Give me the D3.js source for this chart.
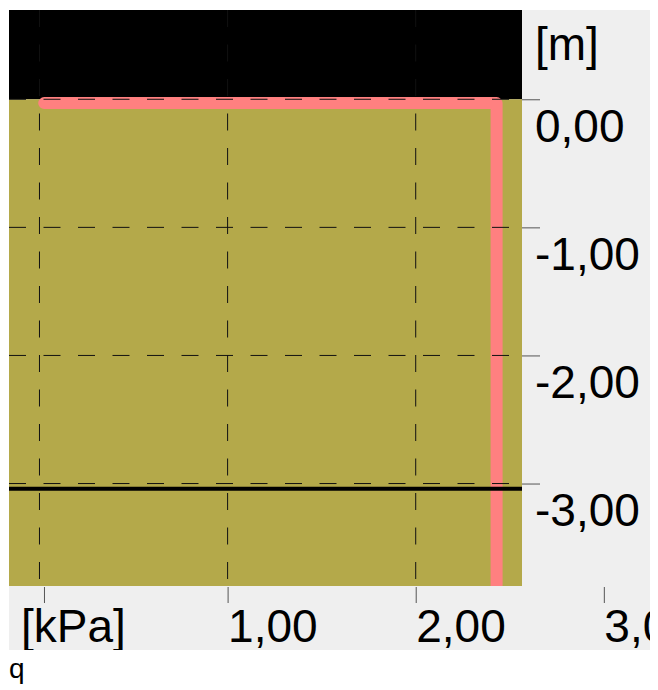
<!DOCTYPE html>
<html>
<head>
<meta charset="utf-8">
<script src="https://cdn.jsdelivr.net/npm/d3@7"></script>
<style>
  body { margin: 0; background: #fff; }
  svg text { font-family: "Liberation Sans", Arial, sans-serif; fill: #000; }
</style>
</head>
<body>
<script>
// soil profile layers, depth in [m]
var layerNames = ["air", "soil"];
var layerTop = [0.70, 0.00];
var layerBottom = [0.00, -3.80];

// surcharge q [kPa] along the depth
var loadQ = [0.025, 2.43, 2.43];
var loadDepth = [-0.03, -0.03, -3.80];

// water table [m]
var waterDepth = [-3.04];

var xTicks = [0, 1, 2, 3];
var yTicks = [0, -1, -2, -3];
var xUnit = "[kPa]";
var yUnit = "[m]";
var xName = "q";

var layerFill = { air: "#000000", soil: "#b4a94a" };

var profileChart = {
    panel: { x: 9, y: 10, w: 641, h: 640 },
    plot: { left: 9, top: 10, right: 522, bottom: 586 },
    fontSize: 46,

    fmt: d3.formatLocale({ decimal: ",", thousands: ".", grouping: [3], currency: ["", ""], minus: "-" }).format(".2f"),

    setupSVG: function() {
        this.svg = d3.select("body").append("svg")
            .attr("width", 658)
            .attr("height", 690);

        var defs = this.svg.append("defs");
        defs.append("clipPath").attr("id", "clip-panel")
            .append("rect")
            .attr("x", this.panel.x).attr("y", this.panel.y)
            .attr("width", this.panel.w).attr("height", this.panel.h);
        defs.append("clipPath").attr("id", "clip-plot")
            .append("rect")
            .attr("x", this.plot.left).attr("y", this.plot.top)
            .attr("width", this.plot.right - this.plot.left)
            .attr("height", this.plot.bottom - this.plot.top);

        // light grey panel behind everything
        this.svg.append("rect")
            .attr("x", this.panel.x).attr("y", this.panel.y)
            .attr("width", this.panel.w).attr("height", this.panel.h)
            .attr("fill", "#efefef");

        this.x = d3.scaleLinear().domain([-0.162, 2.565]).range([this.plot.left, this.plot.right]);
        this.y = d3.scaleLinear().domain([0.697, -3.80]).range([this.plot.top, this.plot.bottom]);
    },

    drawLayers: function() {
        var x = this.x, y = this.y;
        var g = this.svg.append("g").attr("clip-path", "url(#clip-plot)");
        var xd = x.domain();

        g.selectAll("rect.layer")
            .data(layerNames.map((n, i) => ({ name: n, top: layerTop[i], bottom: layerBottom[i] })))
            .enter().append("rect")
            .attr("class", "layer")
            .attr("x", x(xd[0]))
            .attr("width", x(xd[1]) - x(xd[0]))
            .attr("y", d => y(d.top))
            .attr("height", d => y(d.bottom) - y(d.top))
            .attr("fill", d => layerFill[d.name]);

        // q diagram
        var line = d3.line().x(d => x(d[0])).y(d => y(d[1]));
        g.append("path")
            .datum(loadQ.map((q, i) => [q, loadDepth[i]]))
            .attr("d", line)
            .attr("fill", "none")
            .attr("stroke", "#ff8080")
            .attr("stroke-width", 12)
            .attr("stroke-linecap", "round")
            .attr("stroke-linejoin", "round");

        // water table
        g.selectAll("line.water")
            .data(waterDepth)
            .enter().append("line")
            .attr("class", "water")
            .attr("x1", x(xd[0])).attr("x2", x(xd[1]))
            .attr("y1", d => y(d)).attr("y2", d => y(d))
            .attr("stroke", "#000")
            .attr("stroke-width", 4);

        // dashed grid
        g.selectAll("line.vgrid")
            .data(xTicks.filter(d => x(d) <= this.plot.right))
            .enter().append("line")
            .attr("class", "vgrid")
            .attr("x1", d => x(d)).attr("x2", d => x(d))
            .attr("y1", this.plot.top).attr("y2", this.plot.bottom)
            .attr("stroke", "#111")
            .attr("stroke-dasharray", "17,17.5");

        g.selectAll("line.hgrid")
            .data(yTicks)
            .enter().append("line")
            .attr("class", "hgrid")
            .attr("x1", this.plot.left).attr("x2", this.plot.right)
            .attr("y1", d => y(d)).attr("y2", d => y(d))
            .attr("stroke", "#111")
            .attr("stroke-dasharray", "17,17.5");
    },

    drawAxes: function() {
        var fmt = this.fmt;
        var axes = this.svg.append("g").attr("clip-path", "url(#clip-panel)");

        // depth axis on the right
        var yAxis = axes.append("g")
            .attr("transform", "translate(" + this.plot.right + ",0)")
            .call(d3.axisRight(this.y).tickValues(yTicks).tickSize(18).tickFormat(fmt));
        yAxis.select(".domain").remove();
        yAxis.selectAll(".tick line").attr("stroke", "#555");
        yAxis.selectAll(".tick text")
            .attr("x", 13).attr("y", 42).attr("dy", null)
            .attr("text-anchor", "start")
            .style("font-size", this.fontSize + "px");

        // q axis at the bottom
        var xAxis = axes.append("g")
            .attr("transform", "translate(0," + (this.plot.bottom + 1) + ")")
            .call(d3.axisBottom(this.x).tickValues(xTicks).tickSize(16)
                .tickFormat(d => d === 0 ? xUnit : fmt(d)));
        xAxis.select(".domain").remove();
        xAxis.selectAll(".tick line").attr("stroke", "#555");
        xAxis.selectAll(".tick text")
            .attr("x", 0).attr("y", 55).attr("dy", null)
            .attr("text-anchor", "start")
            .style("font-size", this.fontSize + "px");
        // first tick sits a bit right, unit label pulled left
        xAxis.selectAll(".tick").filter(d => d === 0).select("line").attr("x1", 4.5).attr("x2", 4.5);
        xAxis.selectAll(".tick").filter(d => d === 0).select("text").attr("x", -19);

        axes.append("text")
            .attr("x", 535).attr("y", 60)
            .style("font-size", this.fontSize + "px")
            .text(yUnit);

        this.svg.append("text")
            .attr("x", 9).attr("y", 678)
            .style("font-size", "28px")
            .text(xName);
    },

    init: function() {
        this.setupSVG();
        this.drawLayers();
        this.drawAxes();
    }
};

profileChart.init();
</script>
</body>
</html>
